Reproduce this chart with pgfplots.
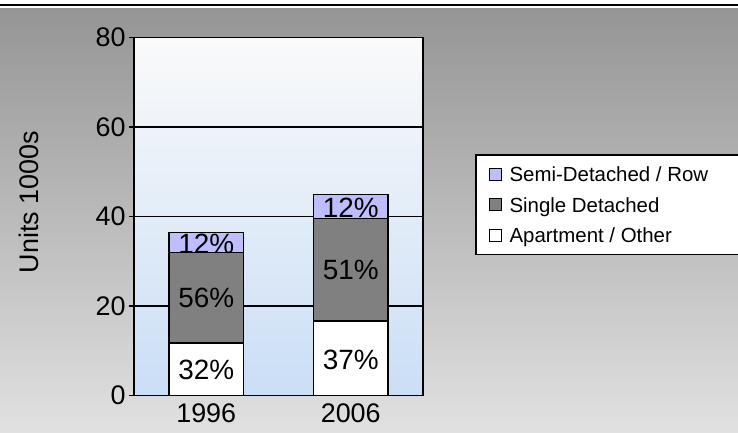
\documentclass[border=0pt]{standalone}
\usepackage{fontspec}
\setmainfont{Liberation Sans}
\usepackage{pgfplots}
\pgfplotsset{compat=1.18}
\definecolor{bgtop}{RGB}{149,149,149}
\definecolor{bgbot}{RGB}{225,225,225}
\definecolor{pltop}{RGB}{250,250,250}
\definecolor{plbot}{RGB}{202,222,246}
\definecolor{semi}{RGB}{190,190,255}
\definecolor{single}{RGB}{128,128,128}
\newcommand{\legtxt}[1]{\makebox[250bp][l]{\rule[-6bp]{0pt}{22bp}\hspace{8bp}#1}}
\pgfplotsset{geom/.style={at={(134bp,37.5bp)}, anchor=south west,
  width=289bp, height=358bp, scale only axis,
  xmin=-0.5, xmax=1.5, ymin=0, ymax=80}}
\begin{document}
\begin{tikzpicture}[x=1bp,y=1bp]
\path[use as bounding box] (0,0) rectangle (738,433);
\fill[white] (0,0) rectangle (738,433);
\shade[top color=bgtop, bottom color=bgbot] (0,0) rectangle (738,424.7);
\fill[black] (0,426.7) rectangle (738,429);
\begin{axis}[
  geom,
  ybar stacked, bar width=74.5bp,
  xtick={0,1}, xticklabels={1996,2006},
  ytick={0,20,40,60,80}, ytick pos=left,
  ymajorgrids, major grid style={black, line width=1.2bp},
  axis line style={black, line width=1.8bp},
  tick align=outside, major tick length=5bp,
  ytick style={black, line width=1.5bp},
  xtick style={draw=none},
  tick label style={font=\fontsize{27}{30}\selectfont},
  /pgf/number format/assume math mode=true,
  ylabel={Units 1000s},
  every axis y label/.style={at={(axis description cs:-0.363,0.54)}, rotate=90, anchor=center, font=\fontsize{27}{30}\selectfont},
  axis background/.style={shade, top color=pltop, bottom color=plbot},
  legend image code/.code={\draw[#1, draw=black, line width=0.8bp] (0bp,-6bp) rectangle (12bp,6bp);},
  reverse legend,
  legend style={at={(axis description cs:1.180,0.6737)}, anchor=north west, draw=black, line width=1.5bp, fill=white, font=\fontsize{20.5}{24}\selectfont, inner xsep=13bp, inner ysep=10.5bp, row sep=13bp, column sep=0pt, nodes={inner sep=0pt}, cells={anchor=west}},
]
\addplot[fill=white, draw=black, line width=1.5bp] coordinates {(0,11.7) (1,16.7)};
\addlegendentry{\legtxt{Apartment / Other}}
\addplot[fill=single, draw=black, line width=1.5bp] coordinates {(0,20.3) (1,22.9)};
\addlegendentry{\legtxt{Single Detached}}
\addplot[fill=semi, draw=black, line width=1.5bp] coordinates {(0,4.4) (1,5.3)};
\addlegendentry{\legtxt{Semi-Detached / Row}}
\end{axis}
\begin{axis}[geom, hide axis,
  every node near coord/.style={anchor=center, inner sep=0pt, font=\fontsize{28}{30}\selectfont, text=black}]
\addplot[draw=none, mark=none, nodes near coords, point meta=explicit symbolic]
  coordinates {(0,5.8) [32\%] (0,21.9) [56\%] (0,33.9) [12\%]
               (1,8.0) [37\%] (1,28.0) [51\%] (1,41.9) [12\%]};
\end{axis}
\end{tikzpicture}
\end{document}
